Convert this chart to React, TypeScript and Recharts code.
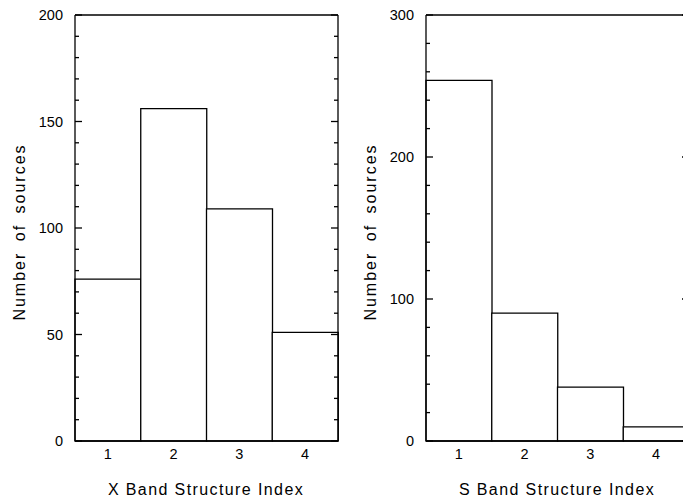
import React from 'react';
import { BarChart, Bar, XAxis, YAxis, ReferenceLine } from 'recharts';

// structure index categories shared by both panels
const categories = ['1', '2', '3', '4'];

// X band counts (left panel)
const xBandCounts = [76, 156, 109, 51];
// S band counts (right panel)
const sBandCounts = [254, 90, 38, 10];

const xBandTicks = [0, 10, 20, 30, 40, 50, 60, 70, 80, 90, 100, 110, 120, 130, 140, 150, 160, 170, 180, 190, 200];
const sBandTicks = [0, 20, 40, 60, 80, 100, 120, 140, 160, 180, 200, 220, 240, 260, 280, 300];

const FONT = '"Liberation Sans", Arial, Helvetica, sans-serif';
const INK = '#000';
const LW = 1.3;

const W = 345;
const H = 502;
const LEFT_AXIS_W = 75;
const RIGHT_AXIS_W = 7;
const LABEL_GAP = 12;

// ticks point inward on both vertical sides of the frame, like the original plot
const makeYTick = (majorStep: number) => (props: any) => {
    const { y, payload } = props;
    const v = payload.value;
    const major = v % majorStep === 0;
    const len = major ? 7 : 4;
    const lx = LEFT_AXIS_W;
    const rx = W - RIGHT_AXIS_W;
    return (
        <g>
            <line x1={lx} y1={y} x2={lx + len} y2={y} stroke={INK} strokeWidth={LW} />
            <line x1={rx} y1={y} x2={rx - len} y2={y} stroke={INK} strokeWidth={LW} />
            {major && (
                <text x={lx - LABEL_GAP} y={y} dy="0.36em" textAnchor="end" fontFamily={FONT} fontSize={14.5} fill={INK}>
                    {v}
                </text>
            )}
        </g>
    );
};

const XTick = (props: any) => {
    const { x, payload } = props;
    return (
        <text x={x} y={459} textAnchor="middle" fontFamily={FONT} fontSize={14.5} fill={INK}>
            {payload.value}
        </text>
    );
};

const Panel = ({ counts, ticks, max, majorStep, title, left }: {
    counts: number[]; ticks: number[]; max: number; majorStep: number; title: string; left: number;
}) => {
    const data = categories.map((c, i) => ({ name: c, value: counts[i] }));
    return (
        <div style={{ position: 'absolute', left, top: 0, width: W, height: H }}>
            <BarChart
                width={W}
                height={H}
                data={data}
                margin={{ top: 15, right: 0, bottom: 0, left: 0 }}
                barCategoryGap={0}
            >
                <XAxis
                    dataKey="name"
                    height={61}
                    axisLine={{ stroke: INK, strokeWidth: LW }}
                    tickLine={false}
                    tick={<XTick />}
                />
                <YAxis
                    domain={[0, max]}
                    ticks={ticks}
                    interval={0}
                    width={LEFT_AXIS_W}
                    axisLine={{ stroke: INK, strokeWidth: LW }}
                    tickLine={false}
                    tick={makeYTick(majorStep)}
                />
                <YAxis
                    yAxisId="right"
                    orientation="right"
                    domain={[0, max]}
                    width={RIGHT_AXIS_W}
                    axisLine={{ stroke: INK, strokeWidth: LW }}
                    tickLine={false}
                    tick={false}
                />
                <ReferenceLine y={max} stroke={INK} strokeWidth={LW} ifOverflow="visible" />
                <Bar
                    dataKey="value"
                    fill="#fff"
                    stroke={INK}
                    strokeWidth={LW}
                    isAnimationActive={false}
                />
            </BarChart>
            <svg width={W} height={H} style={{ position: 'absolute', left: 0, top: 0, pointerEvents: 'none' }}>
                <text
                    transform="translate(19, 232) rotate(-90)"
                    textAnchor="middle"
                    dominantBaseline="central"
                    fontFamily={FONT}
                    fontSize={16}
                    letterSpacing={2}
                    wordSpacing={4}
                    fill={INK}
                >
                    Number of sources
                </text>
                <text
                    x={206}
                    y={495}
                    textAnchor="middle"
                    fontFamily={FONT}
                    fontSize={16}
                    letterSpacing={1.4}
                    fill={INK}
                >
                    {title}
                </text>
            </svg>
        </div>
    );
};

export default function App() {
    return (
        <div style={{ position: 'absolute', left: 0, top: 0, width: 683, height: 502, overflow: 'hidden', background: '#fff' }}>
            <Panel counts={xBandCounts} ticks={xBandTicks} max={200} majorStep={50} title="X Band Structure Index" left={0} />
            <Panel counts={sBandCounts} ticks={sBandTicks} max={300} majorStep={100} title="S Band Structure Index" left={351} />
        </div>
    );
}
